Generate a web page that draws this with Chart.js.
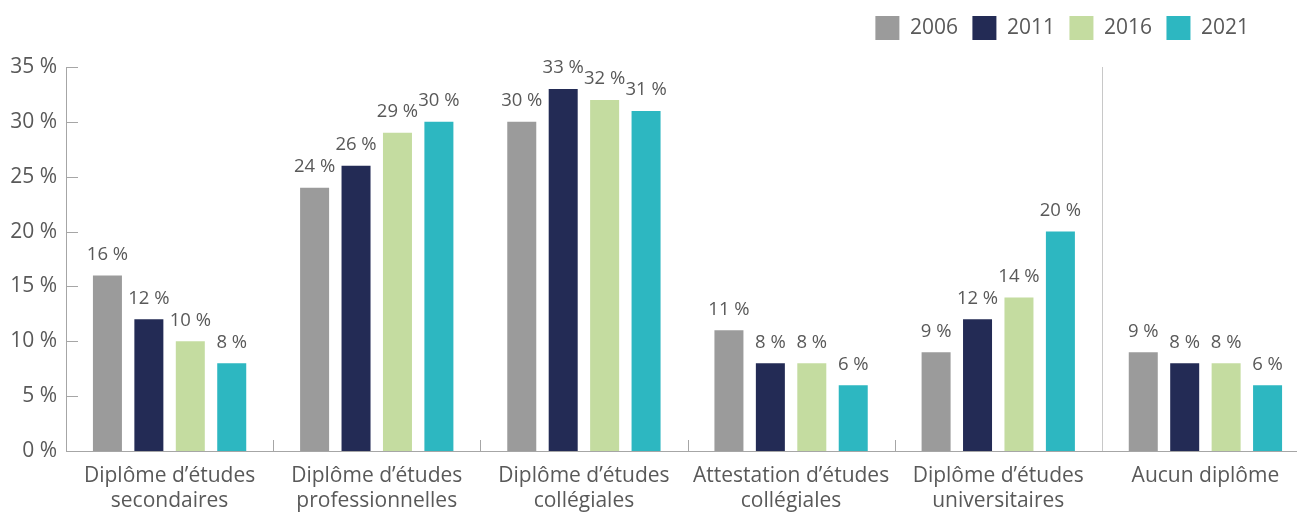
<!DOCTYPE html>
<html><head><meta charset="utf-8">
<script src="https://cdn.jsdelivr.net/npm/chart.js@4.4.1/dist/chart.umd.min.js"></script>
<style>html,body{margin:0;padding:0;overflow:hidden;background:#fff;width:1297px;height:512px}canvas{display:block}</style>
</head><body>
<canvas id="c" width="1310" height="512"></canvas>
<script>
const categories = [
  ['Diplôme d’études','secondaires'],
  ['Diplôme d’études','professionnelles'],
  ['Diplôme d’études','collégiales'],
  ['Attestation d’études','collégiales'],
  ['Diplôme d’études','universitaires'],
  'Aucun diplôme'
];
const seriesNames = ['2006','2011','2016','2021'];
const v2006 = [16, 24, 30, 11, 9, 9];
const v2011 = [12, 26, 33, 8, 12, 8];
const v2016 = [10, 29, 32, 8, 14, 8];
const v2021 = [8, 30, 31, 6, 20, 6];
const yTicks = [0,5,10,15,20,25,30,35];
const colors = ['#9b9b9b','#232b55','#c4dca0','#2db7c1'];
const TXT = '#595959';
const FONT = "'Open Sans', sans-serif";

const layoutPlugin = {
  id: 'layoutFix',
  beforeLayout(chart){
    const lg = chart.legend;
    if (lg && !lg._patched){
      const f = lg.fit;
      lg.fit = function(){ f.call(this); this.height = 65.5; };
      lg._patched = true;
    }
  },
  afterLayout(chart){
    if (chart.legend) chart.legend.right = 1263.5;
  }
};

const decoPlugin = {
  id: 'deco',
  afterDatasetsDraw(chart){
    const ctx = chart.ctx;
    const xs = chart.scales.x, ys = chart.scales.y;
    const a = chart.chartArea;
    ctx.save();
    ctx.strokeStyle = '#a6a6a6'; ctx.lineWidth = 1;
    yTicks.forEach(t => {
      const y = Math.round(ys.getPixelForValue(t)) + 0.5;
      ctx.beginPath(); ctx.moveTo(a.left, y); ctx.lineTo(a.left + 12, y); ctx.stroke();
    });
    const n = categories.length;
    const w = (xs.getPixelForValue(1) - xs.getPixelForValue(0));
    for (let i = 1; i < n; i++){
      const x = Math.round(xs.getPixelForValue(i) - w/2) + 0.5;
      ctx.strokeStyle = (i === n-1) ? '#c8c8c8' : '#a6a6a6';
      ctx.beginPath();
      ctx.moveTo(x, a.bottom);
      ctx.lineTo(x, i === n-1 ? a.top : a.bottom - 11);
      ctx.stroke();
    }
    ctx.fillStyle = TXT;
    ctx.font = "18.5px " + FONT;
    ctx.textAlign = 'center';
    ctx.textBaseline = 'alphabetic';
    chart.data.datasets.forEach((ds, di) => {
      chart.getDatasetMeta(di).data.forEach((bar, i) => {
        ctx.fillText(ds.data[i] + ' %', bar.x, bar.y - 15.5);
      });
    });
    ctx.restore();
  }
};

new Chart(document.getElementById('c'), {
  type: 'bar',
  data: {
    labels: categories,
    datasets: seriesNames.map((name, i) => ({
      label: name,
      data: [v2006, v2011, v2016, v2021][i],
      backgroundColor: colors[i],
      borderWidth: 0,
      categoryPercentage: 0.8,
      barPercentage: 0.7
    }))
  },
  options: {
    responsive: false,
    animation: false,
    devicePixelRatio: 1,
    layout: { padding: { top: 1.5, right: 1, left: 0, bottom: 0 } },
    plugins: {
      tooltip: { enabled: false },
      legend: {
        position: 'top',
        align: 'end',
        labels: {
          boxWidth: 24, boxHeight: 24, padding: 14.5,
          color: TXT,
          font: { family: FONT, size: 21 }
        }
      }
    },
    scales: {
      x: {
        grid: { display: false, drawTicks: false },
        border: { display: true, color: '#a6a6a6', width: 1 },
        ticks: { color: TXT, font: { family: FONT, size: 21, lineHeight: 1.2 }, padding: 12, maxRotation: 0, autoSkip: false },
        afterFit(s){ s.height = 61; }
      },
      y: {
        min: 0, max: 35,
        grid: { display: false, drawTicks: false },
        border: { display: true, color: '#a6a6a6', width: 1 },
        ticks: { stepSize: 5, color: TXT, font: { family: FONT, size: 21 }, padding: 9,
          callback: v => v + ' %' },
        afterFit(s){ s.width = 66; }
      }
    }
  },
  plugins: [layoutPlugin, decoPlugin]
});
</script>
</body></html>
